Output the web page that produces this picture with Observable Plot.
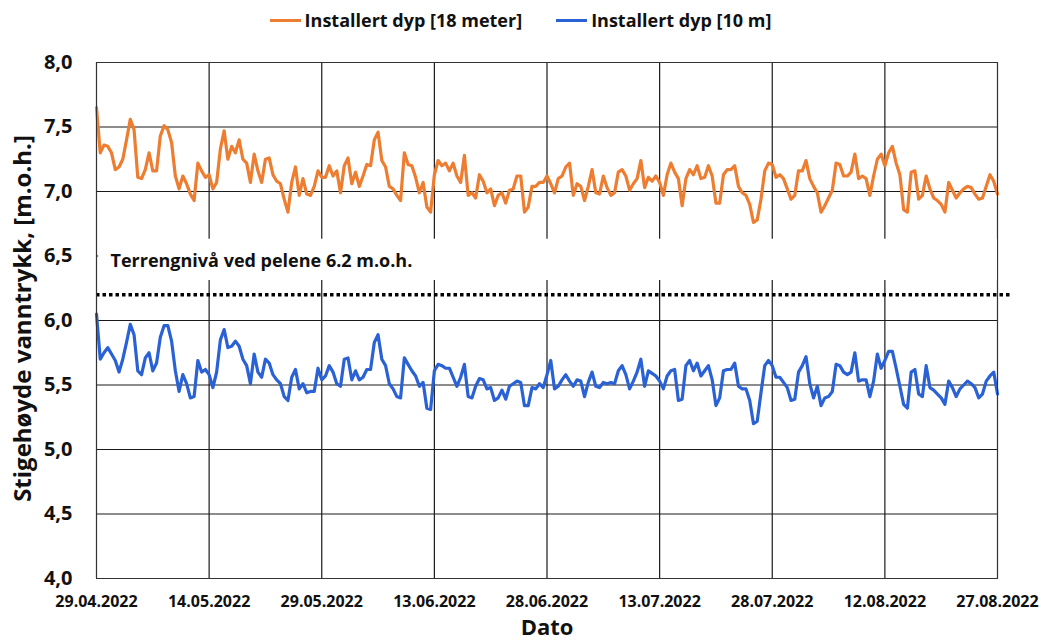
<!DOCTYPE html>
<html>
<head>
<meta charset="utf-8">
<script src="https://cdn.jsdelivr.net/npm/d3@7"></script>
<script src="https://cdn.jsdelivr.net/npm/@observablehq/plot@0.6"></script>
<style>
  body { margin: 0; background: #fff; font-family: "Open Sans", sans-serif; }
  #legend { height: 40px; display: flex; justify-content: center; align-items: center; gap: 34px;
            font-weight: 700; font-size: 18px; color: #111; }
  .item { display: flex; align-items: center; gap: 4px; }
  .swatch { width: 31px; height: 3px; }
</style>
</head>
<body>
<div id="legend"></div>
<div id="chart"></div>
<script>
// Piezometer readings, two per day (00:00 and 12:00 UTC) from 29.04.2022 to 27.08.2022
const seriesNames = ["Installert dyp [18 meter]", "Installert dyp [10 m]"];
const seriesColors = ["#ED7D31", "#2A62D6"];

const level18m = [
  7.65,7.30,7.36,7.35,7.30,7.17,7.19,7.25,7.40,7.56,
  7.48,7.11,7.10,7.17,7.30,7.16,7.16,7.43,7.51,7.48,
  7.38,7.12,7.02,7.12,7.06,6.98,6.93,7.22,7.16,7.11,
  7.13,7.02,7.07,7.33,7.47,7.25,7.35,7.30,7.40,7.25,
  7.22,7.07,7.29,7.16,7.07,7.25,7.26,7.13,7.08,7.06,
  6.94,6.84,7.07,7.19,6.97,7.10,6.98,6.97,7.04,7.16,
  7.11,7.11,7.20,7.12,7.16,6.99,7.20,7.26,7.06,7.15,
  7.04,7.12,7.21,7.20,7.40,7.46,7.24,7.19,7.04,7.02,
  6.97,6.93,7.30,7.21,7.20,7.11,6.99,7.07,6.88,6.84,
  7.13,7.24,7.20,7.22,7.16,7.22,7.12,7.07,7.28,6.97,
  6.99,6.95,7.13,7.08,6.99,7.02,6.89,6.97,6.99,6.91,
  7.01,7.02,7.12,7.12,6.84,6.88,7.04,7.04,7.07,7.07,
  7.12,7.06,6.99,7.10,7.12,7.19,7.22,6.97,7.06,7.04,
  6.93,7.04,7.17,6.99,6.98,7.12,7.03,6.97,6.99,7.15,
  7.17,7.12,7.01,7.06,7.10,7.24,7.03,7.11,7.08,7.12,
  7.07,6.97,7.13,7.22,7.15,7.10,6.89,7.10,7.17,7.13,
  7.20,7.10,7.11,7.20,7.12,6.91,6.91,7.13,7.17,7.17,
  7.20,7.04,6.99,6.97,6.90,6.76,6.78,6.94,7.16,7.22,
  7.21,7.11,7.13,7.10,7.02,6.94,6.97,7.16,7.16,7.24,
  7.10,7.04,6.99,6.84,6.89,6.95,7.01,7.22,7.21,7.12,
  7.12,7.15,7.29,7.10,7.12,7.10,6.97,7.12,7.25,7.29,
  7.20,7.30,7.35,7.22,7.13,6.86,6.84,7.15,7.16,6.94,
  6.97,7.12,7.02,6.95,6.93,6.90,6.84,7.07,7.01,6.95,
  6.99,7.02,7.04,7.03,6.98,6.94,6.95,7.04,7.13,7.08,
  6.98
];

const level10m = [
  6.05,5.70,5.75,5.79,5.74,5.69,5.60,5.70,5.83,5.97,
  5.89,5.61,5.58,5.71,5.75,5.61,5.67,5.87,5.96,5.96,
  5.84,5.61,5.45,5.58,5.51,5.40,5.41,5.69,5.60,5.62,
  5.58,5.48,5.60,5.85,5.93,5.79,5.80,5.84,5.80,5.70,
  5.65,5.51,5.74,5.60,5.56,5.70,5.67,5.58,5.54,5.51,
  5.41,5.38,5.56,5.62,5.47,5.51,5.44,5.45,5.45,5.63,
  5.54,5.57,5.65,5.60,5.51,5.49,5.70,5.71,5.54,5.61,
  5.54,5.56,5.62,5.62,5.83,5.89,5.70,5.65,5.51,5.47,
  5.41,5.40,5.71,5.66,5.61,5.57,5.49,5.52,5.32,5.31,
  5.61,5.66,5.65,5.63,5.63,5.56,5.49,5.56,5.66,5.41,
  5.40,5.49,5.55,5.54,5.47,5.48,5.38,5.40,5.46,5.39,
  5.49,5.51,5.53,5.52,5.34,5.34,5.48,5.47,5.51,5.48,
  5.58,5.69,5.47,5.49,5.54,5.58,5.53,5.49,5.54,5.53,
  5.41,5.52,5.60,5.49,5.48,5.52,5.51,5.52,5.51,5.61,
  5.65,5.58,5.47,5.53,5.60,5.70,5.49,5.61,5.59,5.57,
  5.53,5.47,5.57,5.61,5.62,5.38,5.39,5.65,5.69,5.61,
  5.67,5.57,5.61,5.65,5.54,5.34,5.40,5.61,5.62,5.62,
  5.67,5.49,5.47,5.47,5.38,5.20,5.22,5.44,5.65,5.69,
  5.65,5.56,5.56,5.52,5.48,5.38,5.39,5.60,5.65,5.72,
  5.51,5.40,5.49,5.34,5.40,5.41,5.45,5.66,5.65,5.60,
  5.58,5.60,5.75,5.53,5.54,5.54,5.41,5.53,5.74,5.63,
  5.69,5.76,5.76,5.63,5.49,5.35,5.32,5.60,5.62,5.43,
  5.41,5.65,5.48,5.46,5.43,5.40,5.35,5.53,5.48,5.41,
  5.47,5.50,5.53,5.51,5.48,5.40,5.43,5.53,5.57,5.60,
  5.43
];

// Axis ticks
const xTicks = ["2022-04-29","2022-05-14","2022-05-29","2022-06-13","2022-06-28",
                "2022-07-13","2022-07-28","2022-08-12","2022-08-27"].map(s => new Date(s + "T00:00Z"));
const yTicks = [4.0, 4.5, 5.0, 5.5, 6.0, 6.5, 7.0, 7.5, 8.0];

// Ground level annotation
const groundLevel = 6.2;
const groundLabel = "Terrengnivå ved pelene 6.2 m.o.h.";
const groundLabelY = 6.46;
const labelBand = [{y1: 6.31, y2: 6.63}];
const groundLineEnd = new Date("2022-08-28T19:00Z");

const yTitle = "Stigehøyde vanntrykk, [m.o.h.]";
const xTitle = "Dato";

const start = xTicks[0].getTime();
const step = 12 * 3600 * 1000;
const toRows = (vals) => vals.map((v, i) => ({date: new Date(start + i * step), value: v}));
const rows18 = toRows(level18m);
const rows10 = toRows(level10m);

// Legend
const legend = document.getElementById("legend");
seriesNames.forEach((name, i) => {
  const item = document.createElement("div");
  item.className = "item";
  item.innerHTML = `<span class="swatch" style="background:${seriesColors[i]}"></span><span>${name}</span>`;
  legend.appendChild(item);
});

const x0 = xTicks[0], x1 = xTicks[xTicks.length - 1];

const chart = Plot.plot({
  width: 1041,
  height: 603,
  marginTop: 22,
  marginBottom: 65,
  marginLeft: 96,
  marginRight: 44,
  style: {fontFamily: '"Open Sans", sans-serif', fontWeight: 700, color: "#111", background: "#fff", overflow: "visible"},
  x: {type: "utc", domain: [x0, x1]},
  y: {domain: [4, 8]},
  marks: [
    Plot.ruleX(xTicks, {stroke: "#1a1a1a", strokeWidth: 1.2}),
    Plot.ruleY(yTicks, {stroke: "#1a1a1a", strokeWidth: 1.2}),
    // white box behind the ground-level note hides the grid there
    Plot.rect(labelBand, {x1: () => new Date(start + 0.3 * 86400000), x2: x1, y1: "y1", y2: "y2", fill: "#fff"}),
    Plot.lineY(rows10, {x: "date", y: "value", stroke: seriesColors[1], strokeWidth: 3.2}),
    Plot.lineY(rows18, {x: "date", y: "value", stroke: seriesColors[0], strokeWidth: 3.2}),
    Plot.ruleY([groundLevel], {x1: x0, x2: groundLineEnd, stroke: "#000", strokeWidth: 3.5, strokeDasharray: "3.5,3"}),
    Plot.text([groundLabel], {x: x0, y: groundLabelY, dx: 14, textAnchor: "start", fontSize: 18, fill: "#111"}),
    Plot.axisX(xTicks, {tickSize: 0, tickPadding: 17, tickFormat: d3.utcFormat("%d.%m.%Y"), fontSize: 16, label: null}),
    Plot.axisY(yTicks, {tickSize: 0, tickPadding: 24, tickFormat: d => d.toFixed(1).replace(".", ","), fontSize: 20, label: null}),
    Plot.text([yTitle], {frameAnchor: "left", textAnchor: "middle", lineAnchor: "middle", dx: -73, dy: -2, rotate: -90, fontSize: 24, fill: "#111"}),
    Plot.text([xTitle], {frameAnchor: "bottom", textAnchor: "middle", lineAnchor: "middle", dy: 49, fontSize: 22, fill: "#111"}),
    Plot.frame({stroke: "#333"})
  ]
});
document.getElementById("chart").appendChild(chart);
</script>
</body>
</html>
